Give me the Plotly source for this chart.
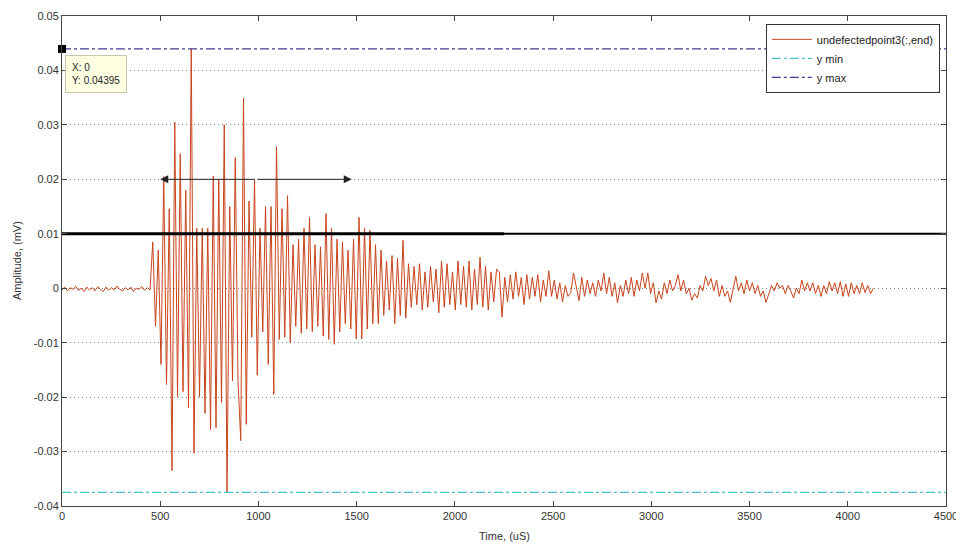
import numpy as np
import plotly.graph_objects as go

# ---------------- data ----------------
sample_step_us = 14.0  # time between listed samples, uS
# amplitude samples in units of 1e-3 mV
amp_e3 = [
    # pre-trigger noise 0..448 uS
    -0.3, 0.2, -0.5, 0.1, -0.2, 0.3, -0.4, 0.0, -0.6, 0.2, -0.3, 0.1, -0.5, 0.3, -0.2, -0.6,
    0.2, -0.4, 0.1, -0.3, 0.4, -0.2, -0.5, 0.1, -0.3, 0.2, -0.6, 0.0, -0.2, 0.3, -0.4, 0.1, -0.3,
    # burst 462..
    8.5, -7.0, 7.0, -14.0, 20.5, -17.7, 14.6, -33.5, 30.5, -20.0, 24.7, -19.0, 18.0, -22.0,
    43.95, -30.3, 11.0, -20.0, 11.0, -23.0, 11.0, -26.0, 20.6, -25.6, 20.0, -21.0, 30.0, -37.5,
    15.0, -17.0, 24.0, -17.0, -28.0, 34.9, -25.0, 16.0, -9.0, 20.0, -16.0, 11.0, -8.0, 15.0,
    -14.0, 15.0, -19.5, 26.0, -9.4, 14.6, -9.0, 17.0, -10.0, 8.0, -7.0, 9.0, -8.3, 11.0,
    -7.5, 13.0, -8.0, 8.0, -7.0, 7.6, -8.8, 13.7, -9.4, 11.0, -10.3, 9.0, -8.0, 8.5, -6.5,
    7.0, -7.5, 9.0, -9.3, 13.0, -9.3, 11.0, -7.5, 10.6, -6.5, 8.0, -6.5, 7.0, -5.0, 5.0,
    -4.0, 6.0, -6.5, 5.5, -5.0, 8.8, -5.5, 4.5, -3.5, 4.0, -3.0, 4.5, -4.0, 3.0, -3.5, 4.0,
    -2.5, 3.5, -4.5, 5.0, -3.5, 4.5, -3.0, 3.0, -4.0, 5.0, -3.0, 4.0, -3.5, 5.0, -4.0, 3.5,
    -3.0, 5.7, -3.5, 4.0, -4.0, 3.0, -2.5, 3.5, 3.0, -5.3, 2.0, -2.5, 2.5, -2.0, 3.0, -1.5,
    2.0, -3.0, 2.5, -2.0, 2.0, -1.5, 2.5, -2.5, 1.5, -1.5,
    # tail 2464..4116 uS
    3.2, -1.5, 1.5, -2.0, 1.0, -2.5, 0.5, -1.5, -0.8, 2.8, 0.5, -2.3, 2.0, -1.5, 1.5, -1.0,
    1.0, -1.5, 1.5, -0.5, 2.8, -1.0, 2.0, -1.5, 1.0, -2.7, 0.5, -1.5, 1.5, -1.0, 2.0, -1.5,
    1.5, -0.5, 2.8, 0.0, 2.8, -1.0, 1.0, -2.7, -0.5, -2.0, 1.0, -1.0, 1.5, -0.5, 0.5, 2.5,
    -0.5, 1.5, -1.0, 0.0, -2.2, -1.0, -1.8, 0.5, -0.5, 2.2, 0.5, 1.8, -0.5, 1.5, -1.5, 0.5,
    -1.5, -0.5, -2.6, 0.0, 2.2, -0.5, 1.0, -1.0, 1.5, -0.5, 1.0, -1.0, 0.5, -1.5, -0.5, -2.6,
    -1.0, 0.5, -0.5, 1.0, 0.0, 0.5, -1.0, 0.5, -0.5, -1.8, 0.0, -1.0, 1.5, -0.5, 1.0, -0.5,
    1.0, -1.0, 0.5, -1.5, 0.5, -1.0, 1.2, -0.5, 1.0, -1.0, 1.2, -1.5, 0.8, -1.5, 1.0, -1.0,
    0.5, -1.0, 1.0, -0.8, 0.5, -1.0, 0.0,
]

y_min_value = -0.0375
y_max_value = 0.04395
threshold_value = 0.01
threshold_split = 2250
arrow_level = 0.02
arrow_start = 500
arrow_end = 1475
datatip_x = 0
datatip_y = 0.04395

x_range = [0, 4500]
y_range = [-0.04, 0.05]
x_ticks = [0, 500, 1000, 1500, 2000, 2500, 3000, 3500, 4000, 4500]
y_ticks = [0.05, 0.04, 0.03, 0.02, 0.01, 0, -0.01, -0.02, -0.03, -0.04]
y_tick_text = ["0.05", "0.04", "0.03", "0.02", "0.01", "0", "-0.01", "-0.02", "-0.03", "-0.04"]
x_tick_text = [str(v) for v in x_ticks]

# ---------------- figure ----------------
amp = np.array(amp_e3) * 1e-3
t = np.arange(len(amp)) * sample_step_us

FONT = "Liberation Sans, Arial, sans-serif"
fig = go.Figure()

fig.add_trace(go.Scatter(x=t, y=amp, mode="lines", name="undefectedpoint3(:,end)",
                         line=dict(color="#c9441c", width=1)))
fig.add_trace(go.Scatter(x=x_range, y=[y_min_value, y_min_value], mode="lines", name="y min",
                         line=dict(color="#45c4c8", width=1.2, dash="dashdot")))
fig.add_trace(go.Scatter(x=x_range, y=[y_max_value, y_max_value], mode="lines", name="y max",
                         line=dict(color="#3e3e8e", width=1.2, dash="dashdot")))
fig.add_trace(go.Scatter(x=[x_range[0], threshold_split], y=[threshold_value, threshold_value],
                         mode="lines", showlegend=False, line=dict(color="black", width=3)))
fig.add_trace(go.Scatter(x=[threshold_split, x_range[1]], y=[threshold_value, threshold_value],
                         mode="lines", showlegend=False, line=dict(color="black", width=2)))
fig.add_trace(go.Scatter(x=[datatip_x], y=[datatip_y], mode="markers", showlegend=False,
                         marker=dict(symbol="square", size=8, color="black"), cliponaxis=False))

mid = (arrow_start + arrow_end) / 2
for tip in (arrow_start, arrow_end):
    fig.add_annotation(x=tip, y=arrow_level, ax=mid, ay=arrow_level, xref="x", yref="y",
                       axref="x", ayref="y", text="", showarrow=True, arrowhead=2,
                       arrowsize=1.6, arrowwidth=1, arrowcolor="#222222")

fig.add_annotation(x=datatip_x, y=datatip_y, xref="x", yref="y", xanchor="left", yanchor="top",
                   xshift=3, yshift=-6, align="left", showarrow=False,
                   text="X: 0<br>Y: " + str(datatip_y),
                   font=dict(family=FONT, size=10, color="#222222"),
                   bgcolor="#ffffe1", bordercolor="#c8c8b0", borderwidth=1, borderpad=6)

fig.add_annotation(x=0.5, y=0, xref="paper", yref="paper", yshift=-22, yanchor="top",
                   showarrow=False, text="Time, (uS)",
                   font=dict(family=FONT, size=11, color="#333333"))
fig.add_annotation(x=0, y=0.5, xref="paper", yref="paper", xshift=-45, xanchor="center",
                   textangle=-90, showarrow=False, text="Amplitude, (mV)",
                   font=dict(family=FONT, size=11, color="#333333"))

axis_common = dict(showline=True, linecolor="#444444", linewidth=1, mirror="ticks",
                   ticks="inside", ticklen=5, tickcolor="#444444", zeroline=False,
                   automargin=False,
                   tickfont=dict(family=FONT, size=11, color="#333333"))
fig.update_xaxes(range=x_range, tickvals=x_ticks, ticktext=x_tick_text, showgrid=False,
                 **axis_common)
fig.update_yaxes(range=y_range, tickvals=y_ticks, ticktext=y_tick_text, showgrid=True,
                 gridcolor="#888888", griddash="1px,3px", gridwidth=1, **axis_common)

# the page body adds an 8px offset; the figure is sized to fill the rest of the window
fig.update_layout(
    width=956, height=539,
    margin=dict(l=54, r=18, t=8, b=41),
    paper_bgcolor="white", plot_bgcolor="white",
    font=dict(family=FONT, size=11, color="#333333"),
    showlegend=True,
    legend=dict(x=0.993, y=0.984, xanchor="right", yanchor="top", bgcolor="white",
                bordercolor="#333333", borderwidth=1,
                font=dict(family=FONT, size=11, color="#222222"),
                tracegroupgap=0, itemwidth=40),
)

fig.write_html("out.html")
